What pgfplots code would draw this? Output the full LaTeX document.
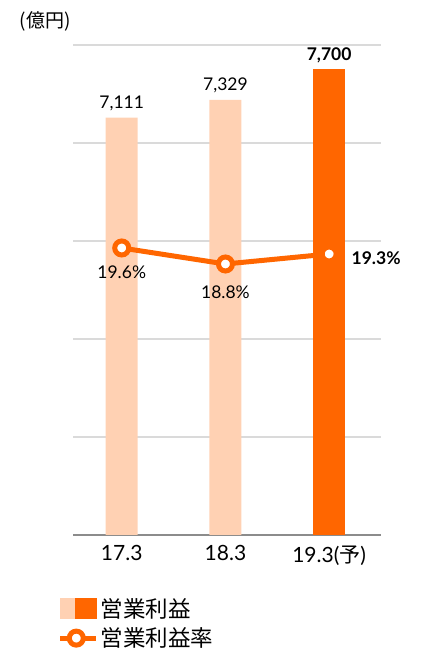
\documentclass[border=0pt]{standalone}
\usepackage{pgfplots}
\pgfplotsset{compat=1.18}
\usepackage{fontspec}
\setmainfont{Lato}
\newfontfamily\jp{Noto Sans CJK JP}
\definecolor{peach}{HTML}{FFD1B3}
\definecolor{orng}{HTML}{FF6600}
\definecolor{gridgray}{HTML}{DADADA}
\definecolor{axisgray}{HTML}{8C8C8C}

\begin{document}
\begin{tikzpicture}[x=1pt,y=1pt]
\path (0,0) rectangle (444,660);
\node[font=\jp\fontsize{19}{19}\selectfont] at (45,639) {(億円)};

% operating profit (bars)
\begin{axis}[
  at={(73pt,125pt)}, anchor=south west, scale only axis,
  width=308pt, height=490pt,
  xmin=-0.47, xmax=2.5, ymin=2000, ymax=8000,
  ytick={2000,3200,4400,5600,6800,8000}, yticklabels={},
  ymajorgrids, major grid style={gridgray, line width=1.2pt},
  axis x line*=bottom, axis y line*=left,
  y axis line style={draw=none},
  x axis line style={axisgray, line width=1.5pt},
  major tick length=0pt,
  xtick={0,1,2},
  xticklabels={17.3, 18.3, {19.3({\jp 予})}},
  xticklabel style={font=\fontsize{21}{21}\selectfont, yshift=-7pt},
  /pgf/number format/assume math mode=true,
  /pgf/number format/1000 sep={,},
  legend style={at={(rel axis cs:-0.05,-0.125)}, anchor=north west,
    draw=none, fill=none, inner sep=0pt, row sep=5pt,
    font=\jp\fontsize{22.5}{22.5}\selectfont,
    /tikz/every even column/.append style={column sep=11pt}},
  legend cell align=left,
]
\addplot[ybar, bar shift=0pt, bar width=32pt, fill=peach, draw=none, forget plot,
  nodes near coords,
  every node near coord/.append style={font=\fontsize{17.5}{17.5}\selectfont, text=black, yshift=3pt}]
  coordinates {(0,7111) (1,7329)};
\addplot[ybar, bar shift=0pt, bar width=32pt, fill=orng, draw=none, forget plot,
  nodes near coords,
  every node near coord/.append style={font=\bfseries\fontsize{17.5}{17.5}\selectfont, text=black, yshift=3pt}]
  coordinates {(2,7700)};
\addlegendimage{legend image code/.code={
  \fill[peach] (0pt,-10pt) rectangle (15pt,10pt);
  \fill[orng] (15pt,-10pt) rectangle (36pt,10pt);}}
\addlegendentry{営業利益}
\addlegendimage{legend image code/.code={
  \draw[orng, line width=5pt] (0pt,0pt) -- (36pt,0pt);
  \draw[orng, line width=5pt, fill=white] (16pt,0pt) circle (7pt);}}
\addlegendentry{営業利益率}
\end{axis}

% operating margin (line)
\begin{axis}[
  at={(73pt,125pt)}, anchor=south west, scale only axis,
  width=308pt, height=490pt,
  xmin=-0.47, xmax=2.5, ymin=5.25, ymax=29.75,
  hide axis, clip=false,
]
\addplot[orng, line width=5pt, mark=*, mark size=7pt,
  mark options={fill=white, draw=orng, line width=5pt}]
  coordinates {(0,19.6) (1,18.8) (2,19.3)};
\node[font=\fontsize{17.5}{17.5}\selectfont, yshift=-24pt] at (axis cs:0,19.6) {19.6\%};
\node[font=\fontsize{17.5}{17.5}\selectfont, yshift=-28pt] at (axis cs:1,18.8) {18.8\%};
\node[font=\bfseries\fontsize{17.5}{17.5}\selectfont, xshift=47pt, yshift=-4pt] at (axis cs:2,19.3) {19.3\%};
\end{axis}
\end{tikzpicture}
\end{document}
